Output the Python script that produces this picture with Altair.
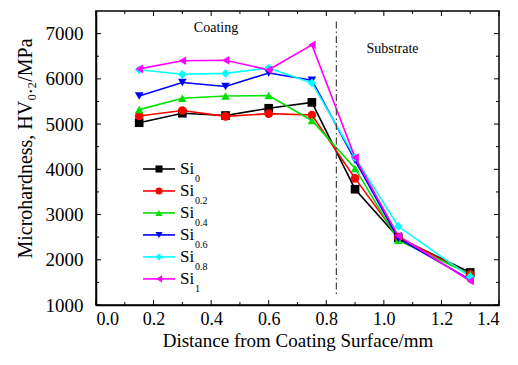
import altair as alt
import pandas as pd

depth = [0.15, 0.30, 0.45, 0.60, 0.75, 0.90, 1.05, 1.30]
series = ["Si0", "Si0.2", "Si0.4", "Si0.6", "Si0.8", "Si1"]
subs = ["0", "0.2", "0.4", "0.6", "0.8", "1"]
si0 = [5030, 5240, 5190, 5350, 5480, 3560, 2490, 1720]
si02 = [5180, 5300, 5170, 5230, 5200, 3800, 2500, 1680]
si04 = [5320, 5570, 5620, 5630, 5080, 4020, 2430, 1680]
si06 = [5620, 5920, 5830, 6130, 5970, 4200, 2470, 1560]
si08 = [6200, 6100, 6120, 6240, 5910, 4260, 2740, 1620]
si1 = [6220, 6400, 6410, 6200, 6750, 4260, 2530, 1530]
colors = ["#000000", "#ff0000", "#00e000", "#0000ff", "#00ffff", "#ff00ff"]
shapes = ["square", "circle", "triangle-up", "triangle-down", "diamond", "triangle-left"]

x_major = [0.0, 0.2, 0.4, 0.6, 0.8, 1.0, 1.2, 1.4]
x_minor = [0.1, 0.3, 0.5, 0.7, 0.9, 1.1, 1.3]
y_major = [1000, 2000, 3000, 4000, 5000, 6000, 7000]
y_minor = [1500, 2500, 3500, 4500, 5500, 6500]
boundary = 0.835

W, H = 403, 294
FONT = "Liberation Serif"
XT = "Distance from Coating Surface/mm"
YT = "Microhardness, HV₀.₂/MPa"

vals = [si0, si02, si04, si06, si08, si1]
rows = []
for i, (s, v) in enumerate(zip(series, vals)):
    for d, h in zip(depth, v):
        rows.append({"series": s, "order": i, "depth": d, "hv": h})
df = pd.DataFrame(rows)

xs = alt.Scale(domain=[0, 1.4], nice=False)
ys = alt.Scale(domain=[1000, 7500], nice=False)
cs = alt.Scale(domain=series, range=colors)
ss = alt.Scale(domain=series, range=shapes)

xaxis = alt.Axis(values=x_major, format=".1f", ticks=False, tickSize=0, grid=False,
                 labelFont=FONT, titleFont=FONT, labelColor="black", titleColor="black",
                 titleFontWeight="normal",
                 labelPadding=5, labelFontSize=18, titleFontSize=19,
                 titleY=35, titleBaseline="middle", domainColor="black", domainWidth=1.5)
yaxis = alt.Axis(values=y_major, format="d", ticks=False, tickSize=0, grid=False,
                 labelFont=FONT, titleFont=FONT, labelColor="black", titleColor="black",
                 titleFontWeight="normal",
                 labelPadding=13, labelFontSize=19, titleFontSize=20,
                 titleX=-71, titleY=137, titleAngle=-90, titleAlign="center",
                 titleBaseline="middle", domainColor="black", domainWidth=1.5)


def X(f):
    return alt.X(f, scale=xs, axis=xaxis, title=XT)


def Y(f):
    return alt.Y(f, scale=ys, axis=yaxis, title=YT)


COL = alt.Color("series:N", scale=cs, legend=None)
SHP = alt.Shape("series:N", scale=ss, legend=None)

base = alt.Chart(df)
lines = base.mark_line(strokeWidth=1.6).encode(
    x=X("depth:Q"), y=Y("hv:Q"), color=COL, detail="series:N", order="depth:Q")
points = base.mark_point(filled=True, size=75, opacity=1).encode(
    x=X("depth:Q"), y=Y("hv:Q"), color=COL, shape=SHP)

bnd = alt.Chart(pd.DataFrame({"x": [boundary], "y1": [7270], "y2": [1220]})).mark_rule(
    color="#444444", strokeWidth=1.2, strokeDash=[7, 3, 1.5, 3]
).encode(x=X("x:Q"), y=Y("y1:Q"), y2="y2:Q")

ann = alt.Chart(pd.DataFrame({
    "x": [0.417, 1.03], "y": [7130, 6670], "t": ["Coating", "Substrate"]
})).mark_text(font=FONT, fontSize=14, color="black").encode(
    x=X("x:Q"), y=Y("y:Q"), text="t:N")

# legend
leg = pd.DataFrame({"series": series, "sub": subs,
                    "ly": [4007 - i * 486 for i in range(len(series))]})
lbase = alt.Chart(leg)
lline = lbase.mark_rule(strokeWidth=1.6).encode(
    x=alt.value(47), x2=alt.value(79), y=Y("ly:Q"), color=COL)
lpt = lbase.mark_point(filled=True, size=50, opacity=1).encode(
    x=alt.value(63), y=Y("ly:Q"), color=COL, shape=SHP)
ltxt = lbase.mark_text(font=FONT, fontSize=17, align="left", baseline="middle", color="black").encode(
    x=alt.value(84), y=Y("ly:Q"), text=alt.value("Si"))
lsub = lbase.mark_text(font=FONT, fontSize=10, align="left", baseline="middle", dy=10, color="black").encode(
    x=alt.value(99), y=Y("ly:Q"), text="sub:N")


# inward ticks
def xticks(vs, L):
    d = alt.Chart(pd.DataFrame({"v": vs}))
    b = d.mark_rule(color="black", strokeWidth=1).encode(
        x=X("v:Q"), y=alt.value(H), y2=alt.value(H - L))
    t = d.mark_rule(color="black", strokeWidth=1).encode(
        x=X("v:Q"), y=alt.value(0), y2=alt.value(L))
    return [b, t]


def yticks(vs, L):
    d = alt.Chart(pd.DataFrame({"v": vs}))
    l = d.mark_rule(color="black", strokeWidth=1).encode(
        y=Y("v:Q"), x=alt.value(0), x2=alt.value(L))
    r = d.mark_rule(color="black", strokeWidth=1).encode(
        y=Y("v:Q"), x=alt.value(W), x2=alt.value(W - L))
    return [l, r]


ticks = xticks(x_major, 5) + xticks(x_minor, 3) + yticks(y_major, 5) + yticks(y_minor, 3)

chart = alt.layer(
    lines, points, bnd, ann, lline, lpt, ltxt, lsub, *ticks
).properties(
    width=W, height=H,
    autosize=alt.AutoSizeParams(type="none"),
    padding={"left": 88, "top": 3, "right": 11, "bottom": 52},
).configure(font=FONT).configure_view(
    stroke="black", strokeWidth=1.5
).configure_axis(
    labelFont=FONT, titleFont=FONT, labelColor="black", titleColor="black", titleFontWeight="normal"
)

chart.save("out.html", embed_options={"renderer": "svg", "actions": False})
